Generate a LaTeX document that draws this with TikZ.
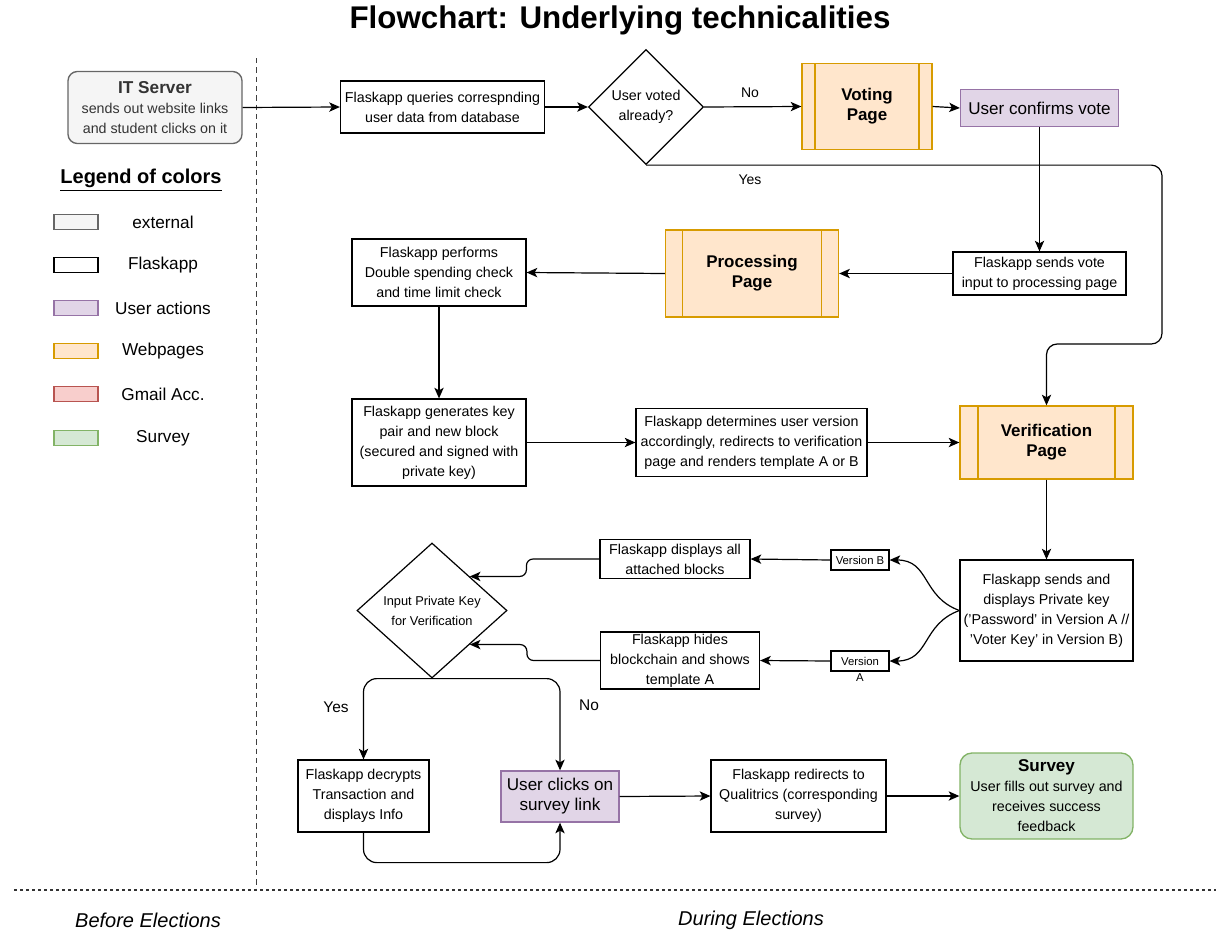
\documentclass[tikz,border=0pt]{standalone}
\usepackage{fontspec}
\setmainfont{Liberation Sans}
\usetikzlibrary{arrows.meta,shapes.geometric}

\definecolor{extfill}{HTML}{F5F5F5}
\definecolor{extline}{HTML}{666666}
\definecolor{usrfill}{HTML}{E1D5E7}
\definecolor{usrline}{HTML}{9673A6}
\definecolor{webfill}{HTML}{FFE6CC}
\definecolor{webline}{HTML}{D79B00}
\definecolor{gmlfill}{HTML}{F8CECC}
\definecolor{gmlline}{HTML}{B85450}
\definecolor{srvfill}{HTML}{D5E8D4}
\definecolor{srvline}{HTML}{82B366}

\tikzset{
  wh/.style 2 args={minimum width=#1*0.75pt, minimum height=#2*0.75pt},
  txt/.style={font=\fontsize{10.7}{15}\selectfont, align=center, inner sep=0pt},
  flask/.style={txt, draw, line width=0.9pt, fill=white},
  usr/.style={draw=usrline, fill=usrfill, line width=1pt, align=center, inner sep=0pt,
    font=\fontsize{12.8}{15}\selectfont},
  page/.style={draw=webline, fill=webfill, line width=1pt, align=center, inner sep=0pt,
    font=\fontsize{12.7}{15}\selectfont\bfseries,
    path picture={\draw[webline, line width=1pt]
      ([xshift=#1]path picture bounding box.north west) -- ([xshift=#1]path picture bounding box.south west)
      ([xshift=-#1]path picture bounding box.north east) -- ([xshift=-#1]path picture bounding box.south east);}},
  choice/.style={txt, diamond, draw, line width=0.9pt, fill=white},
  arr/.style={-{Stealth[length=8pt,width=7pt,inset=2pt]}, line width=0.9pt},
  swatch/.style={wh={44}{15}, line width=1.2pt, inner sep=0pt},
  lbl/.style={font=\fontsize{12.9}{15}\selectfont},
  tag/.style={font=\fontsize{10.5}{13}\selectfont},
  phase/.style={font=\fontsize{15}{18}\selectfont\itshape}
}

\begin{document}
\begin{tikzpicture}[x=0.75pt, y=-0.75pt]
\useasboundingbox (0,0) rectangle (1216,935);

\node[font=\fontsize{23.5}{28}\selectfont\bfseries] (title) at (620,20) {Flowchart: Underlying technicalities};

% phase separators
\draw[dash pattern=on 4pt off 3pt, line width=0.7pt, black!75] (256,58) -- (256,890);
\draw[dash pattern=on 2.5pt off 2pt, line width=0.8pt, black!80] (14,890) -- (1216,890);
\node[phase] (before) at (148,920) {Before Elections};
\node[phase] (during) at (751,920) {During Elections};

% legend
\node[font=\fontsize{15}{18}\selectfont\bfseries] (legend) at (141,180) {\underline{Legend of colors}};
\foreach \y/\f/\l/\t [count=\i] in {222/extfill/extline/external, 265/white/black/Flaskapp,
    308/usrfill/usrline/User actions, 351/webfill/webline/Webpages,
    394/gmlfill/gmlline/Gmail Acc., 438/srvfill/srvline/Survey}{
  \node[swatch, fill=\f, draw=\l] (sw\i) at (76,\y) {};
  \node[lbl] (lg\i) at (163,\y) {\t};
}

% before elections
\node[draw=extline, fill=extfill, rounded corners=7pt, line width=1pt, wh={174}{72}, align=center,
  text=black!80, font=\fontsize{10.7}{15}\selectfont] (itsrv) at (155,107.5)
  {{\fontsize{12.9}{15}\selectfont\bfseries IT Server}\\sends out website links\\and student clicks on it};

% voting
\node[flask, wh={204}{52}] (qry) at (442.5,107) {Flaskapp queries correspnding\\user data from database};
\node[choice, wh={115}{115}] (voted) at (646,107) {User voted\\already?};
\node[page=9.75pt, wh={130}{86}] (vote) at (867,106.5) {Voting\\Page};
\node[usr, wh={158}{37}] (conf) at (1039.5,108) {User confirms vote};
\node[flask, wh={173}{43}] (sendv) at (1039.5,273.5) {Flaskapp sends vote\\input to processing page};
\node[page=12.75pt, wh={173}{87}] (proc) at (752,273.5) {Processing\\Page};
\node[flask, wh={174}{67}] (dbl) at (439,272.5) {Flaskapp performs\\Double spending check\\and time limit check};
\node[flask, wh={174}{87}] (gen) at (439,442.5) {Flaskapp generates key\\pair and new block\\(secured and signed with\\private key)};
\node[flask, wh={231}{68}] (det) at (751.5,442.5) {Flaskapp determines user version\\accordingly, redirects to verification\\page and renders template A or B};
\node[page=13.5pt, wh={173}{73}] (verif) at (1046.5,442.5) {Verification\\Page};
\coordinate (yesturn) at (1162,344);

% verification
\node[flask, wh={173}{101}] (sendk) at (1046.5,610.5) {Flaskapp sends and\\displays Private key\\('Password' in Version A //\\'Voter Key' in Version B)};
\node[flask, wh={58}{20}, font=\fontsize{8.5}{10}\selectfont] (verB) at (860,560) {Version B};
\node[flask, wh={58}{20}, font=\fontsize{8.5}{10}\selectfont,
  label={[font=\fontsize{8.5}{10}\selectfont, inner sep=1pt]below:A}] (verA) at (860,661) {Version};
\node[flask, wh={150}{39}] (disp) at (675,559) {Flaskapp displays all\\attached blocks};
\node[flask, wh={159}{57}] (hide) at (680,660.5) {Flaskapp hides\\blockchain and shows\\template A};
\node[choice, wh={150}{135}, font=\fontsize{9.6}{15}\selectfont] (key) at (432,610.5) {Input Private Key\\for Verification};

% survey
\node[flask, wh={131}{72}] (decr) at (363.5,796) {Flaskapp decrypts\\Transaction and\\displays Info};
\node[usr, wh={118}{51}] (click) at (560,796.5) {User clicks on\\survey link};
\node[flask, wh={175}{72}] (redir) at (798.5,796) {Flaskapp redirects to\\Qualitrics (corresponding\\survey)};
\node[draw=srvline, fill=srvfill, rounded corners=9pt, line width=1pt, wh={173}{86}, align=center,
  font=\fontsize{10.7}{15}\selectfont] (surv) at (1046.5,796)
  {{\fontsize{12.8}{15}\selectfont\bfseries Survey}\\User fills out survey and\\receives success\\feedback};

% connectors
\draw[arr] (itsrv.east) -- (qry.west);
\draw[arr] (qry.east) -- (voted.west);
\draw[arr] (voted.east) -- (vote.west);
\node[tag] (no1) at (750,93) {No};
\draw[arr] (vote.east) -- (conf.west);
\draw[arr] (conf.south) -- (sendv.north);
\draw[arr, rounded corners=8pt] (voted.south) -| (yesturn) -| (verif.north);
\node[tag] (yes1) at (750,180) {Yes};
\draw[arr] (sendv.west) -- (proc.east);
\draw[arr] (proc.west) -- (dbl.east);
\draw[arr] (dbl.south) -- (gen.north);
\draw[arr] (gen.east) -- (det.west);
\draw[arr] (det.east) -- (verif.west);
\draw[arr] (verif.south) -- (sendk.north);
\draw[arr] (sendk.west) to[out=160,in=0,looseness=1.2] (verB.east);
\draw[arr] (sendk.west) to[out=200,in=0,looseness=1.2] (verA.east);
\draw[arr] (verB.west) -- (disp.east);
\draw[arr] (verA.west) -- (hide.east);
\draw[arr, rounded corners=5pt] (disp.west) -- ++(-73,0) |- (key.north east);
\draw[arr, rounded corners=5pt] (hide.west) -- ++(-73,0) |- (key.south east);
\draw[arr, rounded corners=10pt] (key.south) -| (decr.north);
\draw[arr, rounded corners=10pt] (key.south) -| (click.north);
\node[font=\fontsize{11.6}{14}\selectfont] (yes2) at (336,707) {Yes};
\node[font=\fontsize{11.6}{14}\selectfont] (no2) at (589,705) {No};
\draw[arr, rounded corners=10pt] (decr.south) -- ++(0,30) -| (click.south);
\draw[arr] (click.east) -- (redir.west);
\draw[arr] (redir.east) -- (surv.west);
\end{tikzpicture}
\end{document}
